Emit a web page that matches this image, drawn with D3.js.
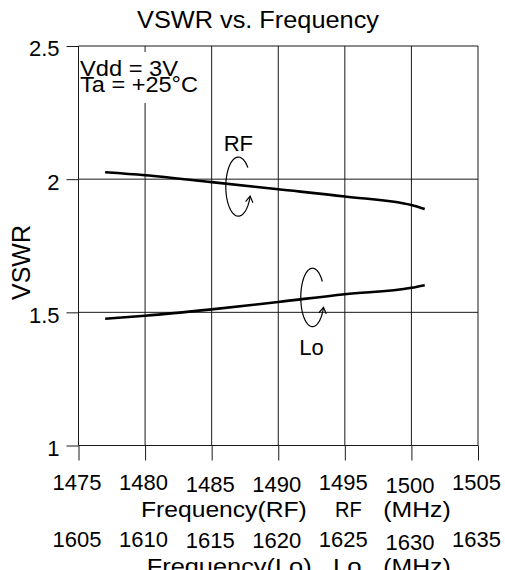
<!DOCTYPE html>
<html>
<head>
<meta charset="utf-8">
<script src="https://cdn.jsdelivr.net/npm/d3@7"></script>
<style>
  html, body { margin: 0; padding: 0; background: #fff; }
  svg { display: block; }
  text { font-family: "Liberation Sans", Arial, Helvetica, sans-serif; fill: #000; }
</style>
</head>
<body>
<svg id="chart" width="505" height="570"></svg>
<script>
// ---- data ----
const rfTicks   = [1475, 1480, 1485, 1490, 1495, 1500, 1505];
const loTicks   = [1605, 1610, 1615, 1620, 1625, 1630, 1635];
const vswrTicks = [1, 1.5, 2, 2.5];

const freqRF = [1477, 1480, 1485, 1490, 1495, 1500, 1501];
const vswrRF = [2.026, 2.015, 1.989, 1.962, 1.935, 1.903, 1.888];
const freqLo = [1607, 1610, 1615, 1620, 1625, 1630, 1631];
const vswrLo = [1.476, 1.487, 1.511, 1.539, 1.568, 1.592, 1.602];

const conditions = ["Vdd = 3V", "Ta = +25°C"];

// small vertical nudges of the frequency labels (px)
const labelNudge = [0, 0, 1.7, 1.7, 0, 3.3, 0];

// ---- scales ----
const svg = d3.select("#chart");
const x   = d3.scaleLinear().domain([1475, 1505]).range([78.5, 478]);
const xLo = d3.scaleLinear().domain([1605, 1635]).range([78.5, 478]);
const y   = d3.scaleLinear().domain([1, 2.5]).range([445.5, 46]);

const gridColor = "#1a1a1a";

// ---- grid ----
const grid = svg.append("g").attr("stroke", gridColor).attr("stroke-width", 1);
grid.selectAll("line.v").data(rfTicks).join("line")
  .attr("class", "v")
  .attr("x1", d => x(d)).attr("x2", d => x(d))
  .attr("y1", y(2.5)).attr("y2", y(1));
grid.selectAll("line.h").data(vswrTicks).join("line")
  .attr("class", "h")
  .attr("x1", x(1475)).attr("x2", x(1505))
  .attr("y1", d => y(d)).attr("y2", d => y(d));

// ---- RF frequency axis ----
const xAxis = svg.append("g")
  .attr("transform", `translate(0,${y(1)})`)
  .call(d3.axisBottom(x).tickValues(rfTicks).tickSize(15).tickFormat(d3.format("d")));
xAxis.select(".domain").remove();
xAxis.selectAll(".tick line").attr("stroke", gridColor);
xAxis.selectAll(".tick text")
  .attr("font-size", 22).attr("font-family", null)
  .attr("x", -2).attr("dy", null)
  .attr("y", (d, i) => 44.5 + labelNudge[i]);

// ---- Lo frequency axis (labels only) ----
const loAxis = svg.append("g")
  .attr("transform", `translate(0,${y(1)})`)
  .call(d3.axisBottom(xLo).tickValues(loTicks).tickSize(0).tickFormat(d3.format("d")));
loAxis.select(".domain").remove();
loAxis.selectAll(".tick line").remove();
loAxis.selectAll(".tick text")
  .attr("font-size", 22).attr("font-family", null)
  .attr("x", -2).attr("dy", null)
  .attr("y", (d, i) => 101.5 + labelNudge[i] * 0.8);

// ---- VSWR axis ----
const yAxis = svg.append("g")
  .attr("transform", `translate(${x(1475)},0)`)
  .call(d3.axisLeft(y).tickValues(vswrTicks).tickSize(12).tickPadding(7).tickFormat(d3.format("~g")));
yAxis.select(".domain").remove();
yAxis.selectAll(".tick line").attr("stroke", gridColor);
yAxis.selectAll(".tick text")
  .attr("font-size", 22).attr("font-family", null)
  .attr("dy", "0.45em");

// ---- curves ----
const line = d3.line().curve(d3.curveMonotoneX);
svg.append("path")
  .attr("d", line(freqRF.map((f, i) => [x(f), y(vswrRF[i])])))
  .attr("fill", "none").attr("stroke", "#000").attr("stroke-width", 2.6);
svg.append("path")
  .attr("d", line(freqLo.map((f, i) => [xLo(f), y(vswrLo[i])])))
  .attr("fill", "none").attr("stroke", "#000").attr("stroke-width", 2.6);

// ---- curve labels with curled arrows ----
const curls = [
  { name: "RF", cx: x(1487.0),  cy: y(1.972), lx: x(1487.0),  ly: y(2.106), rx: 12.5, ry: 29.5, a0: -40, a1: -341 },
  { name: "Lo", cx: xLo(1622.57), cy: y(1.556), lx: xLo(1622.5), ly: y(1.340), rx: 11.7, ry: 29.2, a0: -33, a1: -340 }
];
const toRad = Math.PI / 180;
curls.forEach(c => {
  const angles = d3.range(c.a0, c.a1 - 0.5, -3).concat([c.a1]);
  const pts = angles.map(a => [c.cx + c.rx * Math.cos(a * toRad), c.cy + c.ry * Math.sin(a * toRad)]);
  svg.append("path")
    .attr("d", d3.line()(pts))
    .attr("fill", "none").attr("stroke", "#000").attr("stroke-width", 1.2);
  // open arrowhead at the end of the curl
  const t = c.a1 * toRad;
  const dx = c.rx * Math.sin(t), dy = -c.ry * Math.cos(t);
  const ang = Math.atan2(dy, dx);
  const tip = pts[pts.length - 1];
  const len = 7, spread = 32 * toRad;
  const w1 = [tip[0] - len * Math.cos(ang - spread), tip[1] - len * Math.sin(ang - spread)];
  const w2 = [tip[0] - len * Math.cos(ang + spread), tip[1] - len * Math.sin(ang + spread)];
  svg.append("path")
    .attr("d", d3.line()([w1, tip, w2]))
    .attr("fill", "none").attr("stroke", "#000").attr("stroke-width", 1.2);
  svg.append("text")
    .attr("x", c.lx).attr("y", c.ly)
    .attr("text-anchor", "middle").attr("font-size", 22)
    .text(c.name);
});

// ---- conditions box ----
svg.append("rect")
  .attr("x", x(1475) + 1).attr("y", 52).attr("width", 121).attr("height", 51)
  .attr("fill", "#fff");
const condLen = [98, 118];
svg.selectAll("text.cond").data(conditions).join("text")
  .attr("class", "cond")
  .attr("x", 80).attr("y", (d, i) => 76 + i * 16.3)
  .attr("font-size", 21.5)
  .attr("textLength", (d, i) => condLen[i]).attr("lengthAdjust", "spacingAndGlyphs")
  .text(d => d);

// ---- titles ----
svg.append("text")
  .attr("x", 258).attr("y", 28).attr("text-anchor", "middle")
  .attr("font-size", 23)
  .attr("textLength", 242).attr("lengthAdjust", "spacingAndGlyphs")
  .text("VSWR vs. Frequency");

svg.append("text")
  .attr("transform", "translate(29.5,262.5) rotate(-90)")
  .attr("text-anchor", "middle").attr("font-size", 25)
  .text("VSWR");

const titleParts = [
  { t: "Frequency(RF)", x0: 141, w: 165.7 },
  { t: "RF",            x0: 335, w: 26.7 },
  { t: "(MHz)",         x0: 383.3, w: 67.4 }
];
const titlePartsLo = [
  { t: "Frequency(Lo)", x0: 146.7, w: 165 },
  { t: "Lo",            x0: 333, w: 28.7 },
  { t: "(MHz)",         x0: 383.3, w: 67.4 }
];
[[titleParts, 517.3], [titlePartsLo, 573.5]].forEach(([parts, base]) => {
  parts.forEach(p => {
    svg.append("text")
      .attr("x", p.x0).attr("y", base).attr("font-size", 22)
      .attr("textLength", p.w).attr("lengthAdjust", "spacingAndGlyphs")
      .text(p.t);
  });
});
</script>
</body>
</html>
